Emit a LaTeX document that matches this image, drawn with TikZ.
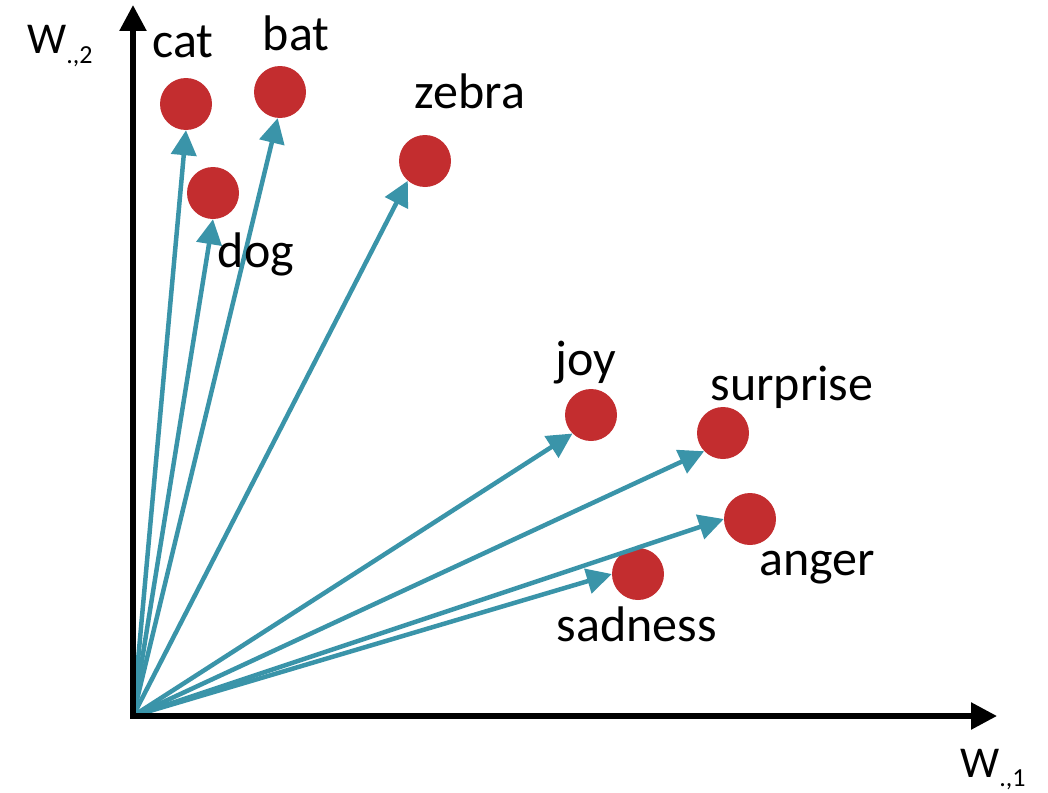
\documentclass[tikz,border=0pt]{standalone}
\usepackage{fontspec}
\setmainfont{Carlito}
\usetikzlibrary{arrows.meta}
\definecolor{vecteal}{HTML}{3A94A9}
\definecolor{dotred}{HTML}{C32D2F}
\begin{document}
\begin{tikzpicture}[x=1pt,y=-1pt,
  axis/.style={line width=5.5pt,black,{Triangle[length=26pt,width=26pt]}-{Triangle[length=26pt,width=26pt]}},
  vec/.style={line width=4.5pt,vecteal,-{Triangle[length=25pt,width=25pt]}},
  word/.style={dotred,circle,fill,inner sep=0pt,minimum size=52pt},
  lbl/.style={anchor=base,inner sep=0pt,font=\fontsize{50}{50}\selectfont},
  axlbl/.style={anchor=base west,inner sep=0pt,font=\fontsize{44}{44}\selectfont}]
\useasboundingbox (0,0) rectangle (1048,792);

% origin and axis ends
\coordinate (O) at (133,716);
\coordinate (xend) at (997,716);
\coordinate (yend) at (133,5);

% word points
\node[word] (cat) at (186,104) {};
\node[word] (bat) at (280,92) {};
\node[word] (dog) at (213,193) {};
\node[word] (zebra) at (425,161) {};
\node[word] (joy) at (591,415) {};
\node[word] (surprise) at (723,433) {};
\node[word] (anger) at (750,519) {};
\node[word] (sadness) at (638,574) {};

% vectors from the origin
\draw[vec] (O) -- (cat.south);
\draw[vec] (O) -- (dog.south);
\draw[vec] (O) -- (bat.265);
\draw[vec] (O) -- (zebra.229);
\draw[vec] (O) -- (joy.225);
\draw[vec] (O) -- (surprise.224);
\draw[vec] (O) -- (anger.west);
\draw[vec] (O) -- (sadness.west);

% axes
\draw[axis] (xend) -- (O) -- (yend);

% labels
\node[lbl] (tcat) at (183,57) {cat};
\node[lbl] (tbat) at (296,50) {bat};
\node[lbl] (tzebra) at (470,108) {zebra};
\node[lbl] (tdog) at (256,267) {dog};
\node[lbl] (tjoy) at (586,375) {joy};
\node[lbl] (tsurprise) at (792,400) {surprise};
\node[lbl] (tanger) at (817,575) {anger};
\node[lbl] (tsadness) at (637,641) {sadness};

\node[axlbl] (ty) at (27,53) {W\raisebox{-10pt}{\fontsize{26}{26}\selectfont .,2}};
\node[axlbl] (tx) at (960,777) {W\raisebox{-9pt}{\fontsize{26}{26}\selectfont .,1}};
\end{tikzpicture}
\end{document}
